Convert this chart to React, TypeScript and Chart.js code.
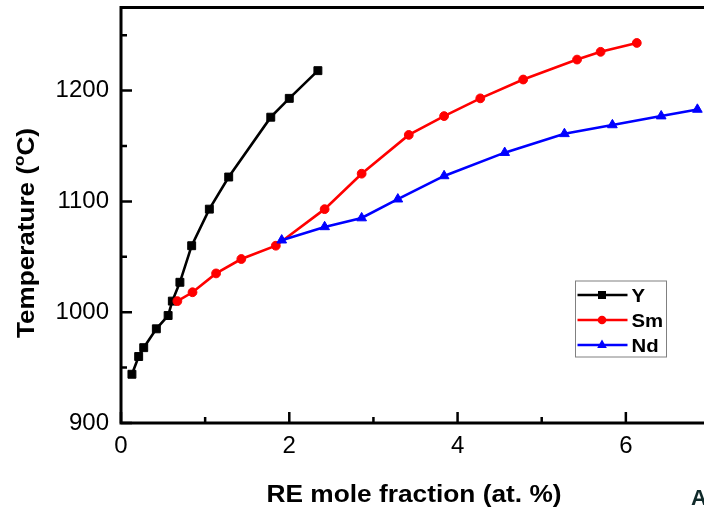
import React, { useEffect, useRef } from "react";
import { Chart, registerables } from "chart.js";

Chart.register(...registerables);

// ---- data ----
const seriesNames = ["Y", "Sm", "Nd"];
const seriesColors = ["#000000", "#ff0000", "#0000ff"];

const xY = [0.13, 0.21, 0.27, 0.42, 0.56, 0.61, 0.7, 0.84, 1.05, 1.28, 1.78, 2.0, 2.34];
const tY = [944, 960, 968, 985, 997, 1010, 1027, 1060, 1093, 1122, 1176, 1193, 1218];

const xSm = [0.67, 0.85, 1.13, 1.43, 1.84, 2.42, 2.86, 3.42, 3.84, 4.27, 4.78, 5.42, 5.7, 6.13];
const tSm = [1010, 1018, 1035, 1048, 1060, 1093, 1125, 1160, 1177, 1193, 1210, 1228, 1235, 1243];

const xNd = [1.91, 2.42, 2.86, 3.29, 3.84, 4.56, 5.27, 5.84, 6.42, 6.85];
const tNd = [1065, 1077, 1085, 1102, 1123, 1144, 1161, 1169, 1177, 1183];

const xMajorTicks = [0, 2, 4, 6];
const xMinorTicks = [1, 3, 5];
const yMajorTicks = [900, 1000, 1100, 1200];
const yMinorTicks = [950, 1050, 1150, 1250];

const xTitle = "RE mole fraction (at. %)";
const yTitleMain = "Temperature (";
const yTitleSup = "o";
const yTitleEnd = "C)";
const cornerLabel = "A";

const FONT = "'Liberation Sans', Arial, sans-serif";

function pts(xs: number[], ys: number[]) {
  return xs.map((x, i) => ({ x, y: ys[i] }));
}

export default function App() {
  const ref = useRef<HTMLCanvasElement>(null);

  useEffect(() => {
    const canvas = ref.current!;

    const decor = {
      id: "decor",
      afterDatasetsDraw(chart: any) {
        const { ctx, chartArea: a, scales } = chart;
        const xs = scales.x;
        const ys = scales.y;
        ctx.save();
        // frame
        ctx.strokeStyle = "#000";
        ctx.lineWidth = 3;
        ctx.strokeRect(a.left, a.top, a.right - a.left, a.bottom - a.top);
        // ticks (inward)
        ctx.lineWidth = 2.5;
        ctx.beginPath();
        xMajorTicks.forEach((v) => {
          const px = xs.getPixelForValue(v);
          ctx.moveTo(px, a.bottom);
          ctx.lineTo(px, a.bottom - 11);
        });
        xMinorTicks.forEach((v) => {
          const px = xs.getPixelForValue(v);
          ctx.moveTo(px, a.bottom);
          ctx.lineTo(px, a.bottom - 6);
        });
        yMajorTicks.forEach((v) => {
          const py = ys.getPixelForValue(v);
          ctx.moveTo(a.left, py);
          ctx.lineTo(a.left + 11, py);
        });
        yMinorTicks.forEach((v) => {
          const py = ys.getPixelForValue(v);
          ctx.moveTo(a.left, py);
          ctx.lineTo(a.left + 6, py);
        });
        ctx.stroke();

        // x title
        ctx.fillStyle = "#000";
        ctx.font = `bold 23px ${FONT}`;
        ctx.textBaseline = "alphabetic";
        ctx.textAlign = "left";
        const w = ctx.measureText(xTitle).width;
        const sx = 295 / w;
        ctx.save();
        ctx.translate(414 - 295 / 2, 502);
        ctx.scale(sx, 1);
        ctx.fillText(xTitle, 0, 0);
        ctx.restore();

        // y title (rotated)
        ctx.save();
        const mainFont = `bold 23px ${FONT}`;
        const supFont = `bold 15px ${FONT}`;
        ctx.font = mainFont;
        const w1 = ctx.measureText(yTitleMain).width;
        const w3 = ctx.measureText(yTitleEnd).width;
        ctx.font = supFont;
        const w2 = ctx.measureText(yTitleSup).width;
        const total = w1 + w2 + w3;
        const ysx = 210 / total;
        ctx.translate(34, 233);
        ctx.rotate(-Math.PI / 2);
        ctx.scale(ysx, 1);
        let cx = -total / 2;
        ctx.font = mainFont;
        ctx.fillText(yTitleMain, cx, 0);
        cx += w1;
        ctx.font = supFont;
        ctx.fillText(yTitleSup, cx, -10);
        cx += w2;
        ctx.font = mainFont;
        ctx.fillText(yTitleEnd, cx, 0);
        ctx.restore();

        // legend
        const lx = 575, ly = 280.5, lw = 91, lh = 76;
        ctx.fillStyle = "#fff";
        ctx.fillRect(lx, ly, lw, lh);
        ctx.strokeStyle = "#808080";
        ctx.lineWidth = 1;
        ctx.strokeRect(lx + 0.5, ly + 0.5, lw, lh);
        const rows = [295, 320, 345];
        chart.data.datasets.forEach((ds: any, i: number) => {
          const ry = rows[i];
          ctx.strokeStyle = ds.borderColor;
          ctx.fillStyle = ds.borderColor;
          ctx.lineWidth = 2.5;
          ctx.beginPath();
          ctx.moveTo(577.5, ry);
          ctx.lineTo(627.5, ry);
          ctx.stroke();
          const mx = 602;
          ctx.beginPath();
          if (ds.pointStyle === "rect") {
            ctx.rect(mx - 4, ry - 4, 8, 8);
          } else if (ds.pointStyle === "circle") {
            ctx.arc(mx, ry, 4.3, 0, Math.PI * 2);
          } else {
            ctx.moveTo(mx, ry - 5.5);
            ctx.lineTo(mx + 4.8, ry + 3);
            ctx.lineTo(mx - 4.8, ry + 3);
            ctx.closePath();
          }
          ctx.fill();
          ctx.fillStyle = "#000";
          ctx.font = `bold 18.5px ${FONT}`;
          ctx.save();
          ctx.translate(631.5, ry + 6.7);
          ctx.scale(1.1, 1);
          ctx.fillText(ds.label, 0, 0);
          ctx.restore();
        });

        // cropped corner label
        ctx.fillStyle = "#102a2a";
        ctx.font = `bold 22px ${FONT}`;
        ctx.fillText(cornerLabel, 691, 505);

        ctx.restore();
      },
    };

    const styles = ["rect", "circle", "triangle"];
    const radii = [5.6, 4.4, 5.6];
    const xsArr = [xY, xSm, xNd];
    const tsArr = [tY, tSm, tNd];

    const chart = new Chart(canvas, {
      type: "line",
      data: {
        datasets: seriesNames.map((name, i) => ({
          label: name,
          data: pts(xsArr[i], tsArr[i]),
          borderColor: seriesColors[i],
          backgroundColor: seriesColors[i],
          borderWidth: 2.6,
          pointStyle: styles[i],
          pointRadius: radii[i],
          pointBorderWidth: 1,
          pointBackgroundColor: seriesColors[i],
          pointBorderColor: seriesColors[i],
          tension: 0,
          order: 3 - i,
        })),
      },
      options: {
        responsive: false,
        animation: false,
        devicePixelRatio: 1,
        layout: { padding: { left: 0, top: 7.5, right: 10, bottom: 0 } },
        plugins: { legend: { display: false }, tooltip: { enabled: false } },
        scales: {
          x: {
            type: "linear",
            min: 0,
            max: 7,
            grid: { display: false, drawTicks: false },
            border: { display: false },
            ticks: {
              stepSize: 2,
              includeBounds: false,
              padding: 9,
              color: "#000",
              font: { family: FONT, size: 24 },
              maxRotation: 0,
              callback: (v: any) => String(v),
            },
            afterFit: (s: any) => {
              s.height = 86;
              s.paddingLeft = 0;
              s.paddingRight = 0;
              s.paddingTop = 0;
              s.paddingBottom = 0;
            },
          },
          y: {
            type: "linear",
            min: 900,
            max: 1275,
            grid: { display: false, drawTicks: false },
            border: { display: false },
            ticks: {
              stepSize: 100,
              includeBounds: false,
              padding: 12,
              color: "#000",
              font: { family: FONT, size: 24 },
              callback: (v: any) => String(v),
            },
            afterFit: (s: any) => {
              s.width = 121;
              s.paddingTop = 0;
              s.paddingBottom = 0;
              s.paddingLeft = 0;
              s.paddingRight = 0;
            },
          },
        },
      },
      plugins: [decor],
    } as any);

    return () => chart.destroy();
  }, []);

  return (
    <div
      style={{
        position: "fixed",
        left: 0,
        top: 0,
        width: 704,
        height: 509,
        overflow: "hidden",
        background: "#fff",
      }}
    >
      <canvas ref={ref} width={720} height={509} style={{ width: 720, height: 509, display: "block" }} />
    </div>
  );
}
